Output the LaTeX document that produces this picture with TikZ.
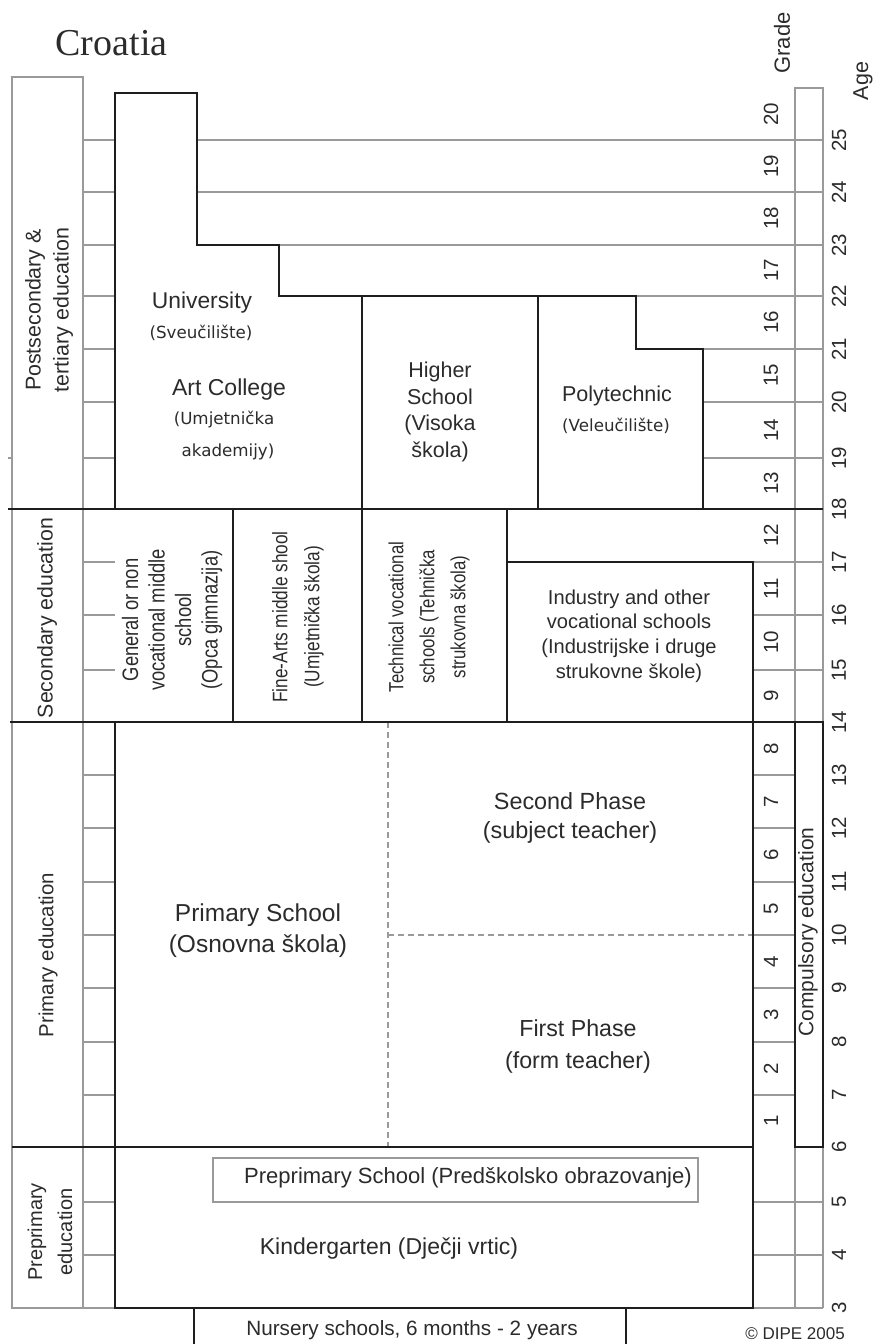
\documentclass[tikz,border=0pt]{standalone}
\usepackage{fontspec}
\setmainfont{Liberation Sans}
\newfontfamily\titlefont{Liberation Serif}
\newfontfamily\subfont{DejaVu Sans}
\newfontfamily\narrowfont[FakeStretch=0.82]{Liberation Sans}
\newcommand\fsz[2]{\fontsize{#1pt}{#2pt}\selectfont}
\definecolor{txtc}{HTML}{2B2B2B}
\definecolor{linedark}{HTML}{1E1E1E}
\definecolor{linegrey}{HTML}{9A9A9A}
\begin{document}
\begin{tikzpicture}[x=1pt,y=-1pt,
  dark/.style={draw=linedark,line width=1.8pt},
  grey/.style={draw=linegrey,line width=1.2pt},
  txt/.style={text=txtc,inner sep=0pt,align=center},
  vtxt/.style={txt,rotate=90},
  gradenum/.style={vtxt,font=\fsz{20.5}{24}},
  agenum/.style={vtxt,font=\fsz{20.5}{24}}]
\useasboundingbox (0,0) rectangle (878,1344);

% ---- grey grid ----
\draw[grey] (12,77) rectangle (83,1308);
\draw[grey] (12,1308) -- (115,1308);
\draw[grey] (8,458) -- (12,458);
\foreach \y in {140,192,245,296,349,402,458,562,615,670,775,828,882,935,988,1042,1095,1202,1255}
  \draw[grey] (83,\y) -- (115,\y);
\draw[grey] (197,140) -- (823,140);
\draw[grey] (197,192) -- (823,192);
\draw[grey] (279,245) -- (823,245);
\draw[grey] (636,296) -- (823,296);
\foreach \y in {349,402,458} \draw[grey] (703,\y) -- (823,\y);
\foreach \y in {562,615,670} \draw[grey] (753,\y) -- (823,\y);
\foreach \y in {775,828,882,935,988,1042,1095} \draw[grey] (753,\y) -- (795,\y);
\foreach \y in {1202,1255,1308} \draw[grey] (753,\y) -- (823,\y);
\draw[grey] (795,1308) -- (795,88) -- (823,88) -- (823,1308);
\draw[grey] (213,1158) rectangle (698,1202);
\draw[grey,dash pattern=on 6pt off 4pt] (388,722) -- (388,1147);
\draw[grey,dash pattern=on 6pt off 4pt] (388,935) -- (753,935);

% ---- dark outlines ----
\draw[dark] (115,509) -- (115,93) -- (197,93) -- (197,245) -- (279,245) -- (279,296)
  -- (636,296) -- (636,349) -- (703,349) -- (703,509);
\draw[dark] (362,296) -- (362,722);
\draw[dark] (538,296) -- (538,509);
\draw[dark] (8,509) -- (823,509);
\draw[dark] (233,509) -- (233,722);
\draw[dark] (507,509) -- (507,722);
\draw[dark] (507,562) -- (753,562) -- (753,722);
\draw[dark] (10,722) -- (823,722);
\draw[dark] (115,722) -- (115,1308) -- (753,1308) -- (753,722);
\draw[dark] (12,1147) -- (753,1147);
\draw[dark] (795,722) rectangle (823,1147);
\draw[dark] (194,1308) -- (194,1350);
\draw[dark] (626,1308) -- (626,1350);

% ---- headings ----
\node[txt,font=\titlefont\fsz{38}{40}] (title) at (111.5,43) {Croatia};
\node[vtxt,font=\fsz{22}{26}] (grade) at (782,43) {Grade};
\node[vtxt,font=\fsz{21.5}{26}] (age) at (863,81) {Age};

% ---- grade and age scales ----
\foreach \g/\y in {1/1121,2/1068.5,3/1015,4/961.5,5/908.5,6/855,7/801.5,8/748.5,9/696,10/642.5,
  11/588.5,12/535.5,13/483.5,14/430,15/375.5,16/322.5,17/270.5,18/218.5,19/166,20/114}
  \node[gradenum] (g\g) at (771,\y) {\g};
\foreach \a/\y in {3/1308,4/1255,5/1202,6/1147,7/1095,8/1042,9/988,10/935,11/882,12/828,13/775,
  14/722,15/670,16/615,17/562,18/509,19/458,20/402,21/349,22/296,23/245,24/192,25/140}
  \node[agenum] (a\a) at (839,\y) {\a};

% ---- level labels ----
\node[vtxt,font=\fsz{21.4}{28}] (lvtert) at (49,310) {Postsecondary \&\\tertiary education};
\node[vtxt,font=\fsz{21.3}{26}] (lvsec) at (47,618) {Secondary education};
\node[vtxt,font=\fsz{20.4}{26}] (lvprim) at (48,955) {Primary education};
\node[vtxt,font=\fsz{20}{30}] (lvpre) at (50,1232) {Preprimary\\education};

% ---- tertiary ----
\node[txt,font=\fsz{22.8}{26}] (uni) at (202,303) {University};
\node[txt,font=\subfont\fsz{16.7}{20}] (unisub) at (201,333) {(Sveučilište)};
\node[txt,font=\fsz{23}{26}] (art) at (229,390) {Art College};
\node[txt,font=\subfont\fsz{16.7}{20}] (artsub1) at (224,420) {(Umjetnička};
\node[txt,font=\subfont\fsz{16.7}{20}] (artsub2) at (228,452) {akademijy)};
\node[txt,font=\fsz{21.5}{26.7}] (higher) at (440,412) {Higher\\School\\(Visoka\\škola)};
\node[txt,font=\fsz{21.5}{26}] (poly) at (617,396) {Polytechnic};
\node[txt,font=\subfont\fsz{16.7}{20}] (polysub) at (616,426) {(Veleučilište)};

% ---- secondary ----
\node[vtxt,font=\narrowfont\fsz{22.4}{26.5}] (gen) at (172,620)
  {General or non\\vocational middle\\school\\(Opca gimnazija)};
\node[vtxt,font=\narrowfont\fsz{21}{32}] (fine) at (298,617)
  {Fine-Arts middle shool\\(Umjetnička škola)};
\node[vtxt,font=\narrowfont\fsz{20.5}{31}] (tech) at (429,617)
  {Technical vocational\\schools (Tehnička\\strukovna škola)};
\node[txt,font=\fsz{20.1}{24.7}] (ind) at (629,636)
  {Industry and other\\vocational schools\\(Industrijske i druge\\strukovne škole)};

% ---- primary ----
\node[txt,font=\fsz{24.5}{31}] (prim) at (258,931) {Primary School\\(Osnovna škola)};
\node[txt,font=\fsz{23.4}{29}] (second) at (570,818) {Second Phase\\(subject teacher)};
\node[txt,font=\fsz{23.2}{32}] (first) at (578,1046) {First Phase\\(form teacher)};
\node[vtxt,font=\fsz{21}{26}] (compul) at (808,932) {Compulsory education};

% ---- preprimary ----
\node[txt,font=\fsz{22}{26}] (prepri) at (468,1178) {Preprimary School (Predškolsko obrazovanje)};
\node[txt,font=\fsz{23}{26}] (kinder) at (389,1248) {Kindergarten (Dječji vrtic)};
\node[txt,font=\fsz{20.7}{24}] (nursery) at (412,1330) {Nursery schools, 6 months - 2 years};
\node[txt,font=\fsz{17}{20},anchor=base] (copy) at (795,1339) {© DIPE 2005};
\end{tikzpicture}
\end{document}
